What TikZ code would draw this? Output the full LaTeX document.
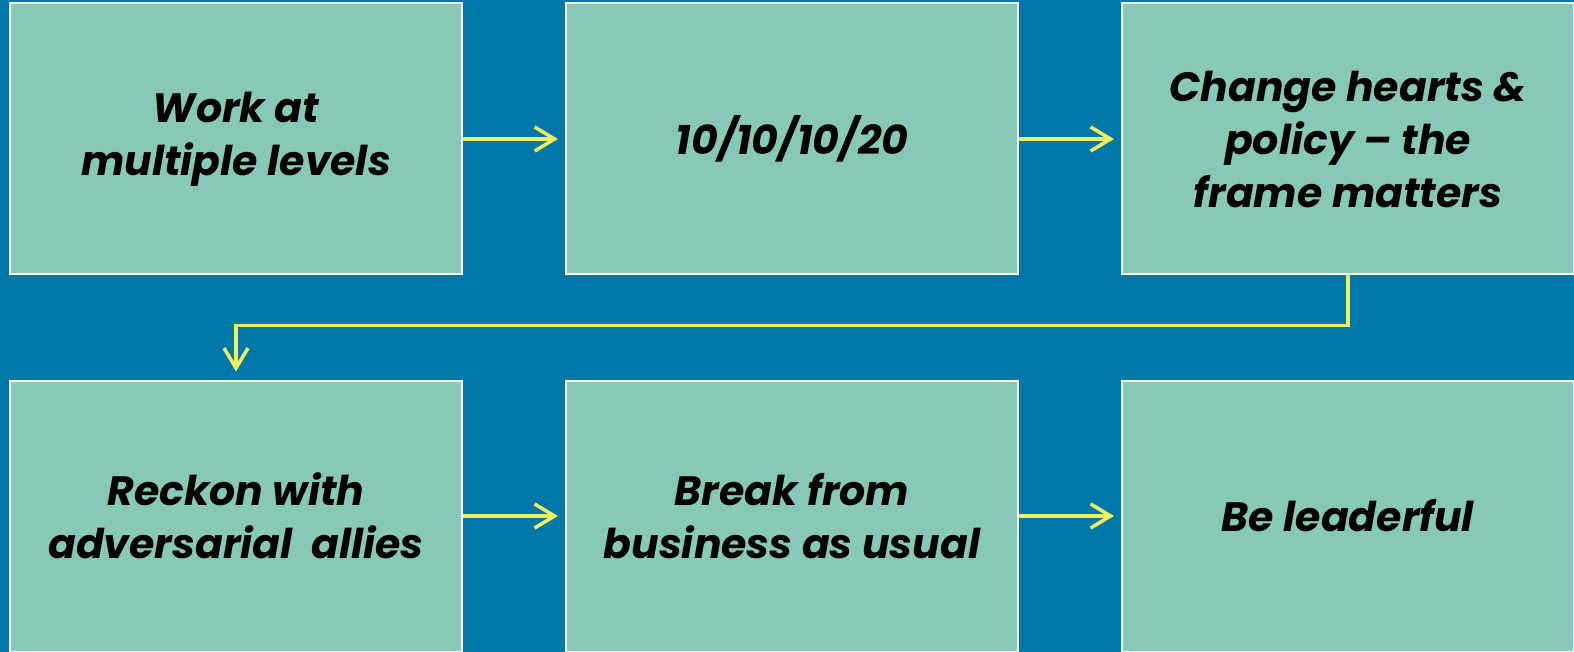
\documentclass[tikz,border=0pt]{standalone}
\usepackage{fontspec}
\newfontfamily\boxfont{Poppins}
\usetikzlibrary{positioning,arrows.meta}
\definecolor{bgblue}{HTML}{0077A8}
\definecolor{boxgreen}{HTML}{88C8B6}
\definecolor{arrowyellow}{HTML}{EEEE5E}
\begin{document}
\begin{tikzpicture}[x=1pt, y=1pt, node distance={102pt},
    main/.style = {draw=white, line width=2pt, fill=boxgreen, minimum width=452pt, minimum height=271pt, align=center, inner sep=0pt,
      font=\boxfont\bfseries\itshape\fontsize{41}{53}\selectfont},
    link/.style = {draw=arrowyellow, line width=3.5pt, -{Straight Barb[length=20pt, width=24pt, line width=3.5pt]}}]
  \fill[bgblue] (0,0) rectangle (1574,-652);
  \useasboundingbox (0,0) rectangle (1574,-652);
		\node[main] (1) at (236,-139) {Work at\\multiple levels};
		\node[main] (2)[right=of 1] {10/10/10/20};
		\node[main] (3)[right=of 2] {Change hearts \&\\policy – the\\frame matters};
		\node[main] (4)[below=104pt of 1] {Reckon with\\adversarial\ \ allies};
		\node[main] (5)[right=of 4] {Break from\\business as usual};
		\node[main] (6)[right=of 5] {Be leaderful};

		\draw[link, shorten >=7pt] (1)--(2);
		\draw[link, shorten >=7pt] (2)--(3);
		\draw[link, shorten >=8pt] (3.south)--++(0,-50)-|(4.north);
		\draw[link, shorten >=7pt] (4)--(5);
		\draw[link, shorten >=7pt] (5)--(6);
	\end{tikzpicture}
\end{document}
